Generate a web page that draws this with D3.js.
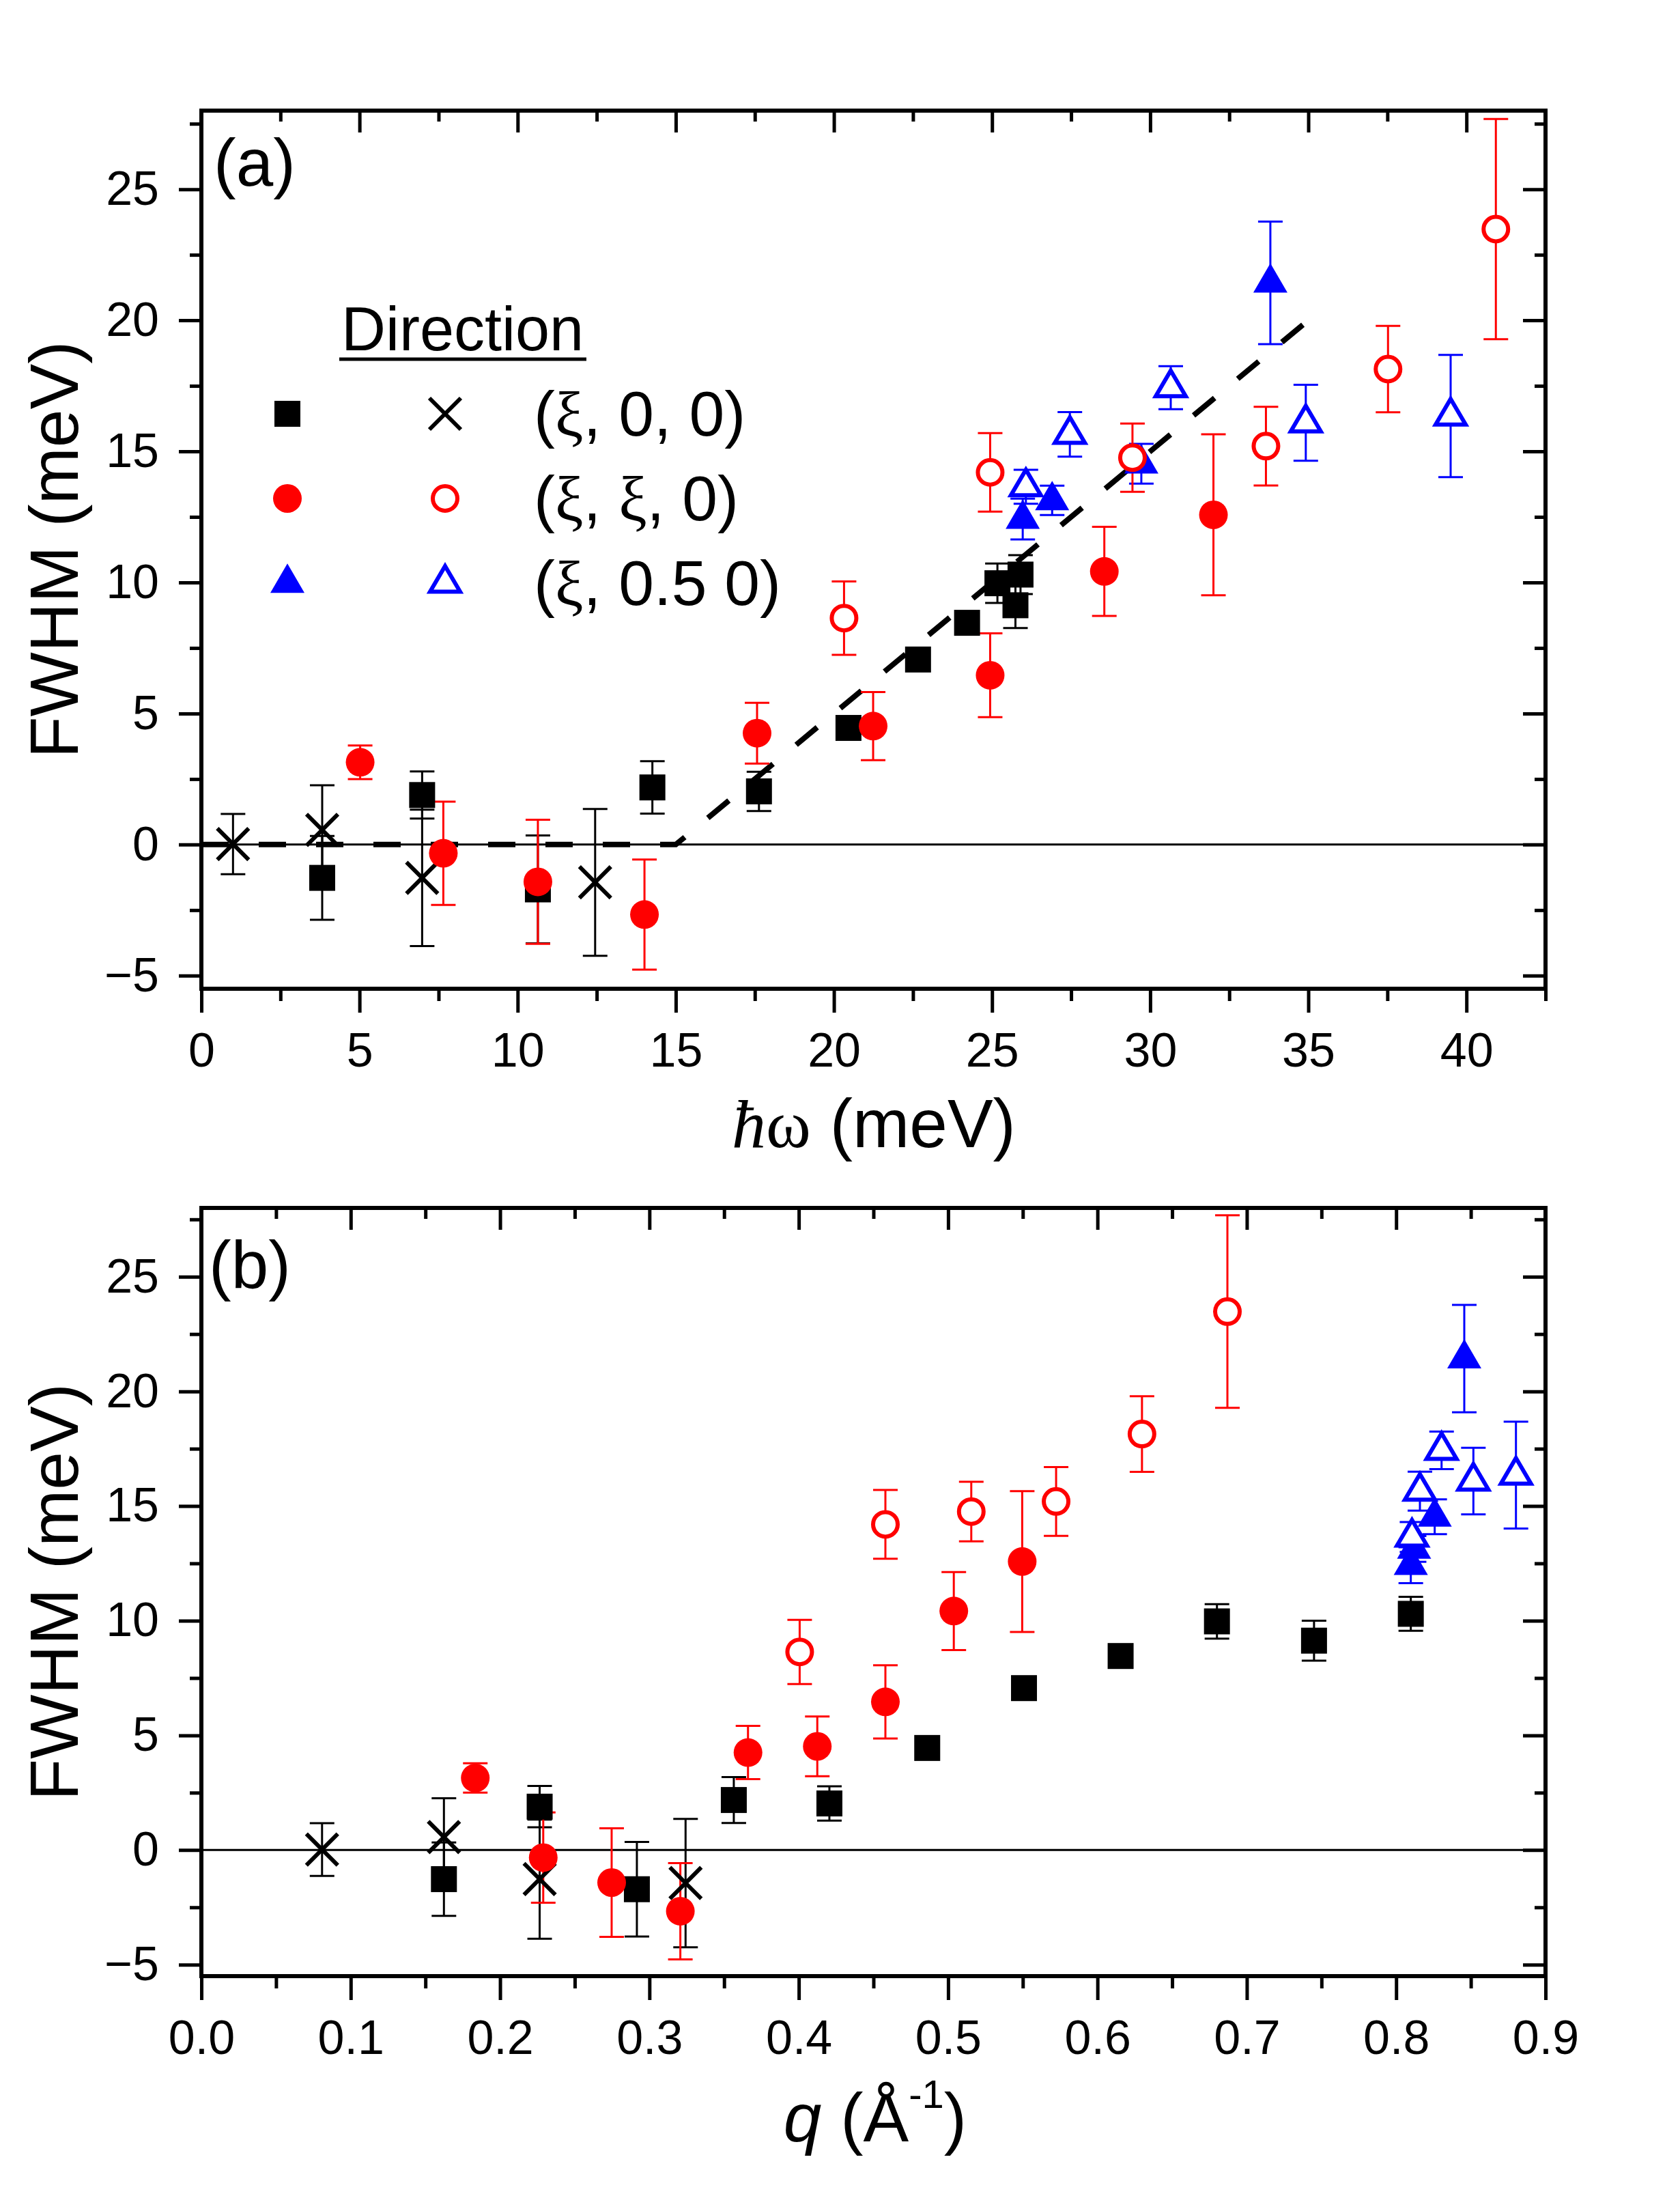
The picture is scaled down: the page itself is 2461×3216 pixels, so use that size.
<!DOCTYPE html>
<html>
<head>
<meta charset="utf-8">
<script src="https://cdn.jsdelivr.net/npm/d3@7/dist/d3.min.js"></script>
<style>
body { margin: 0; background: #fff; }
svg text { font-family: "Liberation Sans", Arial, sans-serif; fill: #000; }
</style>
</head>
<body>
<svg id="chart" width="2461" height="3216"></svg>
<script>
// rows: [hw (meV), q (1/A), FWHM (meV), error (meV)]
var sq100 = [
  [3.82, 0.1624, -1.27, 1.6], [6.98, 0.2265, 1.89, 0.9], [10.64, 0.2916, -1.71, 2.06],
  [14.26, 0.3565, 2.18, 1.0], [17.63, 0.4205, 2.03, 0.75], [20.46, 0.486, 4.45, 0.3],
  [22.66, 0.5508, 7.06, 0.3], [24.21, 0.6155, 8.46, 0.3], [25.17, 0.680, 9.97, 0.75],
  [25.74, 0.745, 9.13, 0.87], [25.9, 0.8098, 10.3, 0.74]
];
var cross100 = [
  [1.0, 0.0808, 0.02, 1.15], [3.82, 0.1624, 0.56, 1.7], [6.98, 0.2265, -1.27, 2.6],
  [12.45, 0.3242, -1.44, 2.8]
];
var dot110 = [
  [5.02, 0.1834, 3.14, 0.64], [7.65, 0.2289, -0.33, 1.97], [10.64, 0.2747, -1.42, 2.37],
  [14.01, 0.3207, -2.67, 2.1], [17.57, 0.366, 4.25, 1.16], [21.24, 0.4124, 4.52, 1.3],
  [24.94, 0.458, 6.46, 1.6], [28.55, 0.5038, 10.42, 1.7], [32.0, 0.5496, 12.58, 3.07]
];
var ring110 = [
  [20.32, 0.4006, 8.64, 1.4], [24.94, 0.458, 14.2, 1.5], [29.44, 0.5155, 14.76, 1.3],
  [33.66, 0.5723, 15.2, 1.5], [37.52, 0.6298, 18.14, 1.65], [40.93, 0.687, 23.48, 4.2]
];
var tri150 = [
  [25.97, 0.8098, 12.42, 0.78], [26.9, 0.812, 13.13, 0.56], [29.72, 0.8258, 14.53, 0.76],
  [33.8, 0.8456, 21.43, 2.34]
];
var otri150 = [
  [26.07, 0.8106, 13.65, 0.65], [27.46, 0.8159, 15.65, 0.85], [30.65, 0.8304, 17.43, 0.82],
  [34.92, 0.8517, 16.09, 1.45], [39.5, 0.8802, 16.35, 2.33]
];
// dashed guide in (a)
var guide = [[0, 0], [15, 0], [35, 20]];

var legendLabels = [
  ["(", "\u03BE", ", 0, 0)"],
  ["(", "\u03BE", ", ", "\u03BE", ", 0)"],
  ["(", "\u03BE", ", 0.5 0)"]
];

var RED = "#ff0000", BLUE = "#0000ff", BLACK = "#000000";

var series = [
  {data: sq100, color: BLACK, mark: "square", open: false},
  {data: cross100, color: BLACK, mark: "cross", open: true},
  {data: tri150, color: BLUE, mark: "tri", open: false},
  {data: otri150, color: BLUE, mark: "tri", open: true},
  {data: dot110, color: RED, mark: "circle", open: false},
  {data: ring110, color: RED, mark: "circle", open: true}
];

var svg = d3.select("#chart");
svg.append("rect").attr("width", 2461).attr("height", 3216).attr("fill", "#fff");

var LEFT = 295, RIGHT = 2264;

function drawMarker(g, s) {
  if (s.mark == "square") {
    g.append("rect").attr("x", -19).attr("y", -19).attr("width", 38).attr("height", 38)
      .attr("fill", s.color);
  } else if (s.mark == "cross") {
    g.append("path").attr("d", "M-23,-23L23,23M-23,23L23,-23")
      .attr("stroke", s.color).attr("stroke-width", 6).attr("fill", "none");
  } else if (s.mark == "circle") {
    if (s.open) {
      g.append("circle").attr("r", 18).attr("fill", "#fff")
        .attr("stroke", s.color).attr("stroke-width", 6);
    } else {
      g.append("circle").attr("r", 21).attr("fill", s.color);
    }
  } else if (s.mark == "tri") {
    if (s.open) {
      g.append("path").attr("d", "M0,-25L22,12.5L-22,12.5Z").attr("fill", "#fff")
        .attr("stroke", s.color).attr("stroke-width", 6).attr("stroke-linejoin", "miter");
    } else {
      g.append("path").attr("d", "M0,-28.7L25,14.3L-25,14.3Z").attr("fill", s.color);
    }
  }
}

function styleAxis(g) {
  g.select(".domain").remove();
  g.selectAll(".tick line").attr("stroke", "#000").attr("stroke-width", 5);
  g.selectAll(".tick text").attr("font-size", 70).attr("fill", "#000")
    .attr("font-family", '"Liberation Sans", Arial, sans-serif');
}

function panel(p) {
  var x = d3.scaleLinear().domain(p.xDomain).range([LEFT, RIGHT]);
  var y = d3.scaleLinear().domain([-5.5, 28]).range([p.bottom, p.top]);
  var g = svg.append("g");
  var none = function() { return ""; };

  var yMajor = d3.range(-5, 25.1, 5), yMinor = d3.range(-2.5, 27.6, 5);

  // zero line
  g.append("line").attr("x1", LEFT).attr("x2", RIGHT).attr("y1", y(0)).attr("y2", y(0))
    .attr("stroke", "#000").attr("stroke-width", 3);

  // bottom axis (outward)
  var gb = g.append("g").attr("transform", "translate(0," + p.bottom + ")");
  gb.append("g").call(d3.axisBottom(x).tickValues(p.xMinor).tickSize(18).tickFormat(none)).call(styleAxis);
  gb.append("g").call(d3.axisBottom(x).tickValues(p.xMajor).tickSize(35).tickPadding(29).tickFormat(p.xFmt)).call(styleAxis);
  // top axis (inward)
  var gt = g.append("g").attr("transform", "translate(0," + p.top + ")");
  gt.append("g").call(d3.axisTop(x).tickValues(p.xMinor).tickSize(-16).tickFormat(none)).call(styleAxis);
  gt.append("g").call(d3.axisTop(x).tickValues(p.xMajor).tickSize(-32).tickFormat(none)).call(styleAxis);
  // left axis (outward)
  var gl = g.append("g").attr("transform", "translate(" + LEFT + ",0)");
  gl.append("g").call(d3.axisLeft(y).tickValues(yMinor).tickSize(17).tickFormat(none)).call(styleAxis);
  gl.append("g").call(d3.axisLeft(y).tickValues(yMajor).tickSize(33).tickPadding(29).tickFormat(d3.format("d"))).call(styleAxis);
  // right axis (inward)
  var gr = g.append("g").attr("transform", "translate(" + RIGHT + ",0)");
  gr.append("g").call(d3.axisRight(y).tickValues(yMinor).tickSize(-16).tickFormat(none)).call(styleAxis);
  gr.append("g").call(d3.axisRight(y).tickValues(yMajor).tickSize(-33).tickFormat(none)).call(styleAxis);

  // frame
  g.append("rect").attr("x", LEFT).attr("y", p.top).attr("width", RIGHT - LEFT)
    .attr("height", p.bottom - p.top).attr("fill", "none")
    .attr("stroke", "#000").attr("stroke-width", 6);

  if (p.guide) {
    g.append("path").datum(guide)
      .attr("d", d3.line().x(function(d) { return x(d[0]); }).y(function(d) { return y(d[1]); }))
      .attr("fill", "none").attr("stroke", "#000").attr("stroke-width", 8)
      .attr("stroke-dasharray", "40,44");
  }

  var k = p.col;
  series.forEach(function(s) {
    var eg = g.append("g").attr("stroke", s.color).attr("stroke-width", 3);
    s.data.forEach(function(d) {
      var cx = x(d[k]), y1 = y(d[2] + d[3]), y2 = y(d[2] - d[3]);
      eg.append("line").attr("x1", cx).attr("x2", cx).attr("y1", y1).attr("y2", y2);
      eg.append("line").attr("x1", cx - 18).attr("x2", cx + 18).attr("y1", y1).attr("y2", y1);
      eg.append("line").attr("x1", cx - 18).attr("x2", cx + 18).attr("y1", y2).attr("y2", y2);
    });
  });
  series.forEach(function(s) {
    s.data.forEach(function(d) {
      var m = g.append("g").attr("transform", "translate(" + x(d[k]) + "," + y(d[2]) + ")");
      drawMarker(m, s);
    });
  });

  // panel letter
  g.append("text").attr("x", p.letterX).attr("y", p.letterY).attr("font-size", 98).text(p.letter);

  // y title
  g.append("text").attr("transform", "translate(114," + ((p.top + p.bottom) / 2) + ") rotate(-90)")
    .attr("text-anchor", "middle").attr("font-size", 100).text("FWHM (meV)");

  return {x: x, y: y, g: g};
}

var pa = panel({top: 162, bottom: 1448, xDomain: [0, 42.5],
  xMajor: d3.range(0, 40.01, 5), xMinor: d3.range(2.5, 42.6, 5), xFmt: d3.format("d"),
  col: 0, guide: true, letter: "(a)", letterX: 313, letterY: 272});

var pb = panel({top: 1769, bottom: 2894, xDomain: [0, 0.9],
  xMajor: d3.range(0, 0.901, 0.1), xMinor: d3.range(0.05, 0.9, 0.1), xFmt: d3.format(".1f"),
  col: 1, guide: false, letter: "(b)", letterX: 306, letterY: 1886});

// x titles
var t1 = svg.append("text").attr("x", 1280).attr("y", 1680).attr("text-anchor", "middle").attr("font-size", 100);
t1.append("tspan").attr("font-family", '"Liberation Serif", "Times New Roman", serif').attr("font-style", "italic").text("\u0127");
t1.append("tspan").attr("font-family", '"Liberation Serif", "Times New Roman", serif').text("\u03C9");
t1.append("tspan").text(" (meV)");

var t2 = svg.append("text").attr("x", 1282).attr("y", 3136).attr("text-anchor", "middle").attr("font-size", 100);
t2.append("tspan").attr("font-style", "italic").text("q");
t2.append("tspan").text(" (\u00C5");
t2.append("tspan").attr("font-size", 58).attr("dy", -49).text("-1");
t2.append("tspan").attr("dy", 49).text(")");

// legend in (a)
var lg = pa.g.append("g");
lg.append("text").attr("x", 500).attr("y", 513).attr("font-size", 90).text("Direction");
lg.append("line").attr("x1", 497).attr("x2", 859).attr("y1", 526).attr("y2", 526)
  .attr("stroke", "#000").attr("stroke-width", 5);
var rowY = [606, 730, 854];
var legendMarks = [[series[0], series[1]], [series[4], series[5]], [series[2], series[3]]];
legendMarks.forEach(function(pair, i) {
  drawMarker(lg.append("g").attr("transform", "translate(421," + rowY[i] + ")"), pair[0]);
  drawMarker(lg.append("g").attr("transform", "translate(652," + rowY[i] + ")"), pair[1]);
  var t = lg.append("text").attr("x", 782).attr("y", rowY[i] + 32).attr("font-size", 93);
  legendLabels[i].forEach(function(part) {
    var ts = t.append("tspan").text(part);
    if (part == "\u03BE") ts.attr("font-family", '"Liberation Serif", "Times New Roman", serif');
  });
});
</script>
</body>
</html>
